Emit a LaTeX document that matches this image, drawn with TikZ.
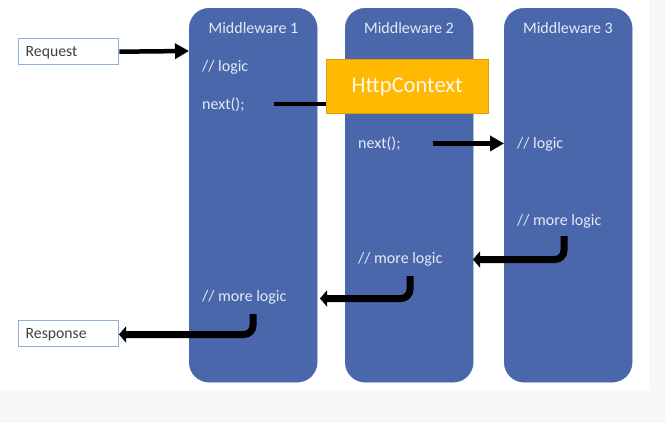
\documentclass[tikz,border=0pt]{standalone}
\usepackage{fontspec}
\setmainfont{Carlito}
\usepackage{xcolor}
\usetikzlibrary{arrows.meta}
\usetikzlibrary{calc}
\definecolor{mwblue}{HTML}{4A67AB}
\definecolor{mwtext}{HTML}{E4EBF7}
\definecolor{boxline}{HTML}{8FB0DA}
\definecolor{ctxfill}{HTML}{FFB900}
\definecolor{ctxline}{HTML}{D89E10}
\definecolor{pagetint}{HTML}{F9F6F9}
\tikzset{
    mwbox/.style={draw=mwblue,fill=mwblue,rounded corners=20pt,minimum width=128pt,minimum height=374pt,anchor=north west,inner sep=0pt},
    mwtitle/.style={text=mwtext,font=\fontsize{16}{18}\selectfont,inner sep=0pt},
    mwcode/.style={text=mwtext,font=\fontsize{16}{18}\selectfont,anchor=west,inner sep=0pt},
    endbox/.style={draw=boxline,line width=1.4pt,fill=white,text=black!75,font=\fontsize{15.7}{18}\selectfont,minimum width=100pt,minimum height=26pt,anchor=north west,inner sep=0pt,text width=86pt,text height=12.3pt,text depth=3pt},
    thinarrow/.style={black,line width=4.5pt,-{Triangle[length=14pt,width=15pt]}},
    thickarrow/.style={black,line width=7pt,rounded corners=9pt,-{Triangle[length=7pt,width=16pt]}}
}
\begin{document}
\begin{tikzpicture}[x=1pt,y=-1pt]
        \newcommand{\mwtop}{8}
        \newcommand{\mwax}{189}
        \newcommand{\mwbx}{345}
        \newcommand{\mwcx}{504}
        \newcommand{\titley}{28}
        % page
        \fill[pagetint] (0,0) rectangle (665,423);
        \fill[white] (0,0) rectangle (649,390);
        \useasboundingbox (0,0) rectangle (665,423);
        % middleware columns
        \node[mwbox] (mwa) at (\mwax,\mwtop) {};
        \node[mwbox] (mwb) at (\mwbx,\mwtop) {};
        \node[mwbox] (mwc) at (\mwcx,\mwtop) {};
        \node[mwtitle] (titlea) at (253.5,\titley) {Middleware 1};
        \node[mwtitle] (titleb) at (409,\titley) {Middleware 2};
        \node[mwtitle] (titlec) at (568,\titley) {Middleware 3};
        % code lines
        \node[mwcode] (logica) at (202,67) {// logic};
        \node[mwcode] (nexta) at (202,104.5) {next();};
        \node[mwcode] (morea) at (202,297) {// more logic};
        \node[mwcode] (nextb) at (358,144) {next();};
        \node[mwcode] (moreb) at (358,259) {// more logic};
        \node[mwcode] (logicc) at (517,144) {// logic};
        \node[mwcode] (morec) at (517,221) {// more logic};
        % request and response
        \node[endbox] (request) at (18,38) {Request};
        \node[endbox] (response) at (18,320) {Response};
        % free ends of the connectors
        \coordinate (reqend) at (189,51);
        \coordinate (nextastart) at (274,104);
        \coordinate (nextbstart) at (433,143.5);
        \coordinate (nextbend) at (504,143.5);
        \coordinate (morecstart) at (564,236);
        \coordinate (morecend) at (473,259.5);
        \coordinate (morebstart) at (410,276);
        \coordinate (morebend) at (320,298.5);
        \coordinate (moreastart) at (253,314);
        \coordinate (moreaend) at (119,334.5);
        % connectors
        \draw[thinarrow] (request.east) -- (reqend);
        \draw[thinarrow] (nextbstart) -- (nextbend);
        \draw[thickarrow] (morecstart) |- (morecend);
        \draw[thickarrow] (morebstart) |- (morebend);
        \draw[thickarrow] (moreastart) |- (moreaend);
        % context on top
        \node[draw=ctxline,fill=ctxfill,text=white!92!ctxfill,font=\fontsize{22.5}{26}\selectfont,minimum width=162pt,minimum height=54pt,anchor=north west,inner sep=0pt,text height=17pt,text depth=3.8pt] (context) at (326,59) {HttpContext};
        \draw[black,line width=4.5pt] (nextastart) -- (nextastart -| context.west);
        \end{tikzpicture}
\end{document}
